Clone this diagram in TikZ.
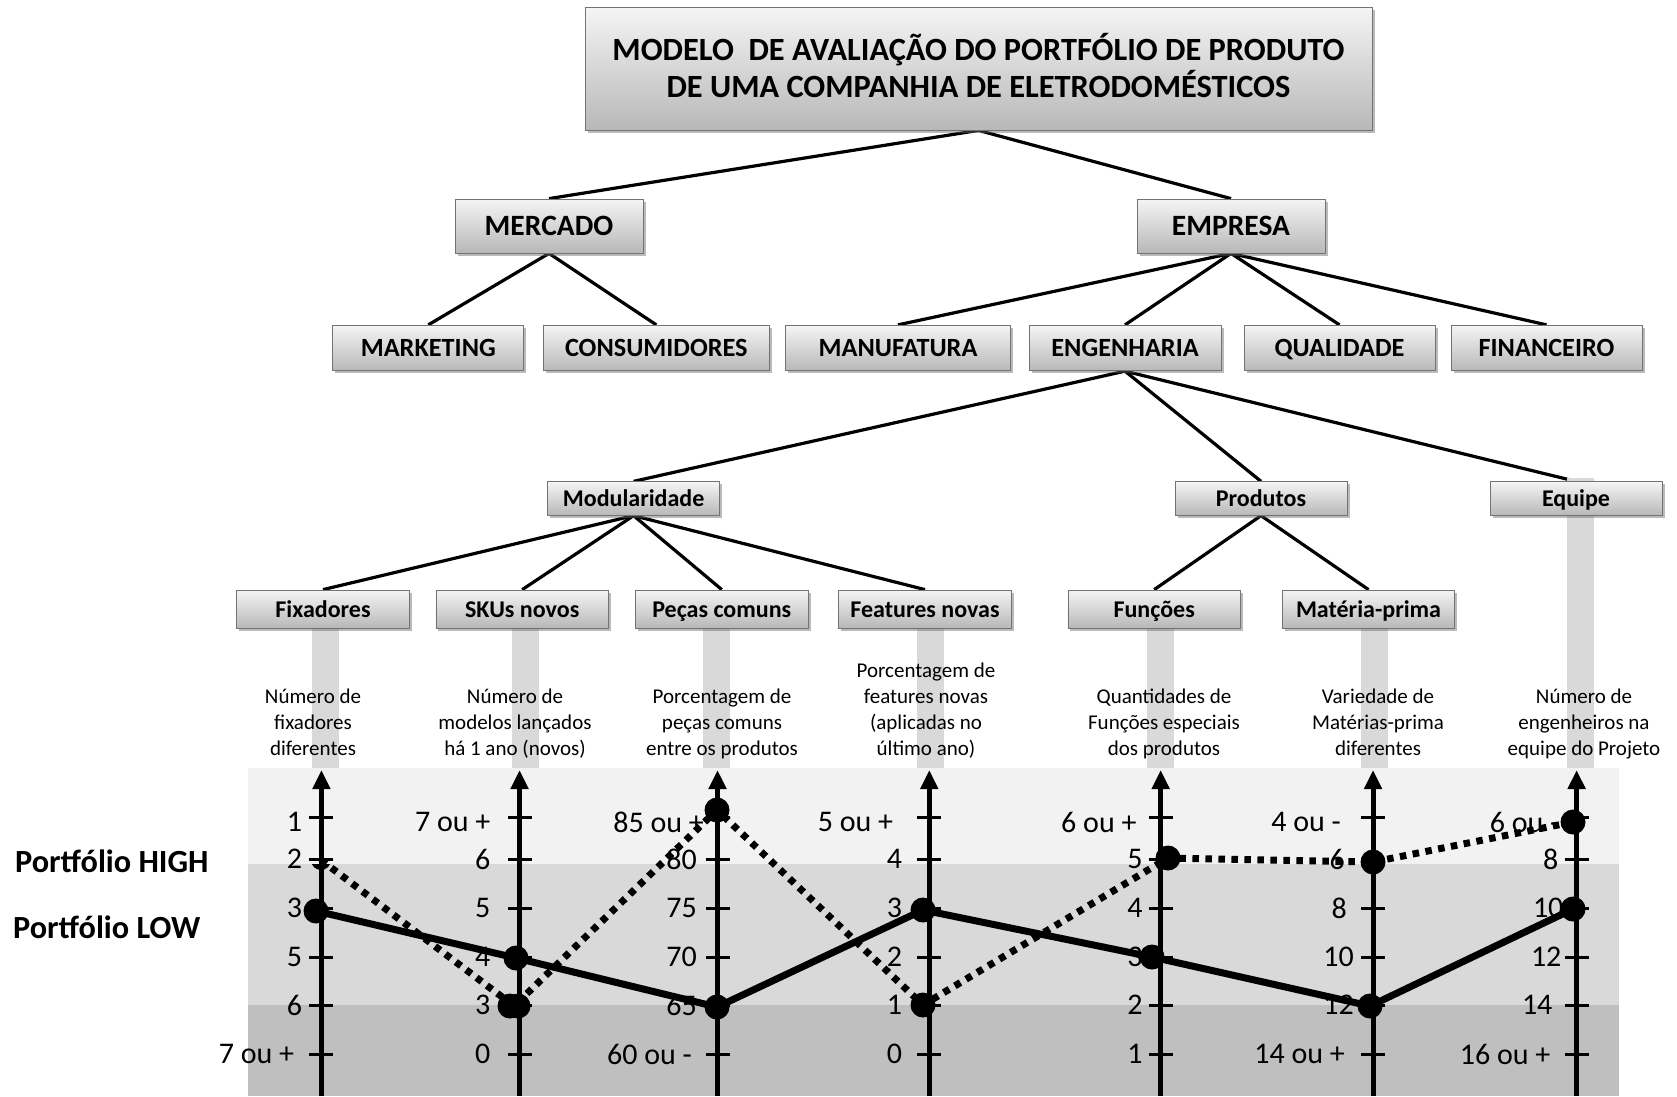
\documentclass[tikz,border=0pt]{standalone}
\usepackage{fontspec}
\setmainfont{Carlito}
\usetikzlibrary{arrows.meta,shadows,backgrounds}
\definecolor{bandA}{HTML}{F2F2F2}
\definecolor{bandB}{HTML}{D9D9D9}
\definecolor{bandC}{HTML}{BFBFBF}
\definecolor{barcol}{HTML}{D9D9D9}
\newcommand\fsz[2]{\fontsize{#1}{#2}\selectfont}
\tikzset{
  gbox/.style={draw=black!55, line width=0.8pt, top color=black!4, bottom color=black!28,
    inner sep=0pt, drop shadow={shadow xshift=2.5pt, shadow yshift=-2.5pt, fill=black!60, opacity=0.45}},
  ttl/.style={gbox, minimum width=787pt, minimum height=123pt, align=center, text depth=6.4pt, font=\bfseries\fsz{32.4}{37}},
  lvA/.style={gbox, minimum width=188pt, minimum height=54pt, text height=19pt, text depth=0pt, font=\bfseries\fsz{29.5}{35}},
  lvB/.style={gbox, minimum height=45.5pt, text height=16.9pt, text depth=0pt, font=\bfseries\fsz{26.3}{32}},
  lvC/.style={gbox, minimum width=172pt, minimum height=33.5pt, text height=16.8pt, text depth=0pt, font=\bfseries\fsz{24}{29}},
  lvD/.style={gbox, minimum width=172.5pt, minimum height=38pt, text height=16.8pt, text depth=0pt, font=\bfseries\fsz{24}{29}},
  link/.style={line width=3.2pt, black},
  desc/.style={align=center, inner sep=0pt, font=\fsz{21}{26}},
  tlab/.style={anchor=east, inner sep=0pt, font=\fsz{30}{36}},
  axisln/.style={line width=5pt, -{Triangle[width=17pt,length=19pt]}},
  tickln/.style={line width=3pt},
  lowln/.style={line width=7pt, line join=round},
  highln/.style={line width=7pt, dash pattern=on 6.5pt off 6.5pt},
  dot/.style={circle, fill=black, minimum size=25pt, inner sep=0pt},
  side/.style={anchor=west, inner sep=0pt, font=\bfseries\fsz{32.3}{38}}
}
\begin{document}
\begin{tikzpicture}[x=1pt,y=-1pt]
\useasboundingbox (0,0) rectangle (1677,1096);
% chart bands
\fill[bandA] (248,768) rectangle (1619,864);
\fill[bandB] (248,864) rectangle (1619,1005);
\fill[bandC] (248,1005) rectangle (1619,1096);
% vertical bars
\foreach \bx in {325,525,716,930,1160,1374}
  \fill[barcol] (\bx-13.5,629) rectangle (\bx+13.5,768);
\fill[barcol] (1580-13.5,478) rectangle (1580+13.5,768);
% tree nodes
\node[ttl] (title) at (978.5,68.5) {MODELO\ \ DE AVALIAÇÃO DO PORTFÓLIO DE PRODUTO\\DE UMA COMPANHIA DE ELETRODOMÉSTICOS};
\node[lvA] (mercado) at (549,226) {MERCADO};
\node[lvA] (empresa) at (1231,226) {EMPRESA};
\node[lvB, minimum width=191pt] (marketing) at (428.3,348) {MARKETING};
\node[lvB, minimum width=226.6pt] (consum) at (656.3,348) {CONSUMIDORES};
\node[lvB, minimum width=225.7pt] (manuf) at (898,348) {MANUFATURA};
\node[lvB, minimum width=192pt] (engen) at (1125,348) {ENGENHARIA};
\node[lvB, minimum width=191pt] (qualid) at (1339.5,348) {QUALIDADE};
\node[lvB, minimum width=191pt] (financ) at (1546.5,348) {FINANCEIRO};
\node[lvC] (modul) at (633.6,498.5) {Modularidade};
\node[lvC] (produtos) at (1261,498.5) {Produtos};
\node[lvC] (equipe) at (1576,498.5) {Equipe};
\node[lvD] (fix) at (323,609) {Fixadores};
\node[lvD] (skus) at (522.2,609) {SKUs novos};
\node[lvD] (pecas) at (721.8,609) {Peças comuns};
\node[lvD] (feat) at (925,609) {Features novas};
\node[lvD] (func) at (1154.2,609) {Funções};
\node[lvD] (mater) at (1368.5,609) {Matéria-prima};
% connectors
\begin{scope}[on background layer]
  \fill[white] (0,0) rectangle (1677,1096);
  \draw[link] (title.south) -- (mercado.north);
  \draw[link] (title.south) -- (empresa.north);
  \draw[link] (mercado.south) -- (marketing.north);
  \draw[link] (mercado.south) -- (consum.north);
  \draw[link] (empresa.south) -- (manuf.north);
  \draw[link] (empresa.south) -- (engen.north);
  \draw[link] (empresa.south) -- (qualid.north);
  \draw[link] (empresa.south) -- (financ.north);
  \draw[link] (engen.south) -- (modul.north);
  \draw[link] (engen.south) -- (produtos.north);
  \draw[link] (engen.south) -- (equipe.north);
  \draw[link] (modul.south) -- (fix.north);
  \draw[link] (modul.south) -- (skus.north);
  \draw[link] (modul.south) -- (pecas.north);
  \draw[link] (modul.south) -- (feat.north);
  \draw[link] (produtos.south) -- (func.north);
  \draw[link] (produtos.south) -- (mater.north);
\end{scope}
% descriptions
\node[desc] (da) at (313,724) {\strut Número de\\fixadores\\diferentes\strut};
\node[desc] (db) at (515,724) {\strut Número de\\modelos lançados\\há 1 ano (novos)\strut};
\node[desc] (dc) at (722,724) {\strut Porcentagem de\\peças comuns\\entre os produtos\strut};
\node[desc] (dd) at (926,711) {\strut Porcentagem de\\features novas\\(aplicadas no\\último ano)\strut};
\node[desc] (de) at (1164,724) {\strut Quantidades de\\Funções especiais\\dos produtos\strut};
\node[desc] (df) at (1378,724) {\strut Variedade de\\Matérias-prima\\diferentes\strut};
\node[desc] (dg) at (1584,724) {\strut Número de\\engenheiros na\\equipe do Projeto\strut};
% side labels
\node[side] (phigh) at (15,861) {Portfólio HIGH};
\node[side] (plow) at (13,927) {Portfólio LOW};
% tick labels
\foreach \lab/\yy/\off [count=\i] in {1/822/19, 2/859/19, 3/908/19, 5/957/19, 6/1005/19, 7 ou +/1054/27}
  \node[tlab] (ta\i) at (321.4-\off,\yy) {\lab};
\foreach \lab/\yy/\off [count=\i] in {7 ou +/822/29, 6/859/29, 5/908/29, 4/957/29, 3/1005/29, 0/1054/29}
  \node[tlab] (tb\i) at (519.6-\off,\yy) {\lab};
\foreach \lab/\yy/\off [count=\i] in {85 ou +/822/13.5, 80/859/20.5, 75/908/20.5, 70/957/20.5, 65/1005/20.5, 60 ou -/1054/25.5}
  \node[tlab] (tc\i) at (717.5-\off,\yy) {\lab};
\foreach \lab/\yy/\off [count=\i] in {5 ou +/822/36, 4/859/27, 3/908/27, 2/957/27, 1/1005/27, 0/1054/27}
  \node[tlab] (td\i) at (929.3-\off,\yy) {\lab};
\foreach \lab/\yy/\off [count=\i] in {6 ou +/822/24, 5/859/18, 4/908/18, 3/957/18, 2/1005/18, 1/1054/18}
  \node[tlab] (te\i) at (1160.7-\off,\yy) {\lab};
\foreach \lab/\yy/\off [count=\i] in {4 ou -/822/32, 6/859/28, 8/908/26, 10/957/19, 12/1005/19, 14 ou +/1054/28}
  \node[tlab] (tf\i) at (1373-\off,\yy) {\lab};
\foreach \lab/\yy/\off [count=\i] in {6 ou -/822/17, 8/859/18, 10/908/13, 12/957/15, 14/1005/24, 16 ou +/1054/26}
  \node[tlab] (tg\i) at (1576.6-\off,\yy) {\lab};
% axes
\foreach \ax/\xx in {a/321.4, b/519.6, c/717.5, d/929.3, e/1160.7, f/1373, g/1576.6} {
  \coordinate (\ax top) at (\xx,770);
  \coordinate (\ax bot) at (\xx,1096);
  \draw[axisln] (\ax bot) -- (\ax top);
  \foreach \tt in {817,859,908,957,1005,1054}
    \draw[tickln] (\xx-12,\tt) -- (\xx+12,\tt);
}
% data points
\coordinate (la) at (316,911);
\coordinate (lb) at (516,958);
\coordinate (lc) at (717,1007);
\coordinate (ld) at (923,910);
\coordinate (le) at (1152,957);
\coordinate (lf) at (1370,1006);
\coordinate (lg) at (1573,909);
\coordinate (ha) at (321,860);
\coordinate (hb) at (514,1006);
\coordinate (hc) at (717,810);
\coordinate (hd) at (923,1005);
\coordinate (he) at (1168,858);
\coordinate (hf) at (1373,862);
\coordinate (hg) at (1573,822);
\draw[highln] (ha) -- (hb) -- (hc) -- (hd) -- (he) -- (hf) -- (hg);
\draw[lowln] (la) -- (lb) -- (lc) -- (ld) -- (le) -- (lf) -- (lg);
\foreach \p in {la,lb,lc,ld,le,lf,lg,hc,hd,he,hf,hg}
  \node[dot] (d\p) at (\p) {};
\node[dot] (dhb1) at (510,1006) {};
\node[dot] (dhb2) at (518,1006) {};
\begin{scope}
  \clip (300,864) rectangle (342,880);
  \fill (ha) circle[radius=10];
\end{scope}
\end{tikzpicture}
\end{document}
